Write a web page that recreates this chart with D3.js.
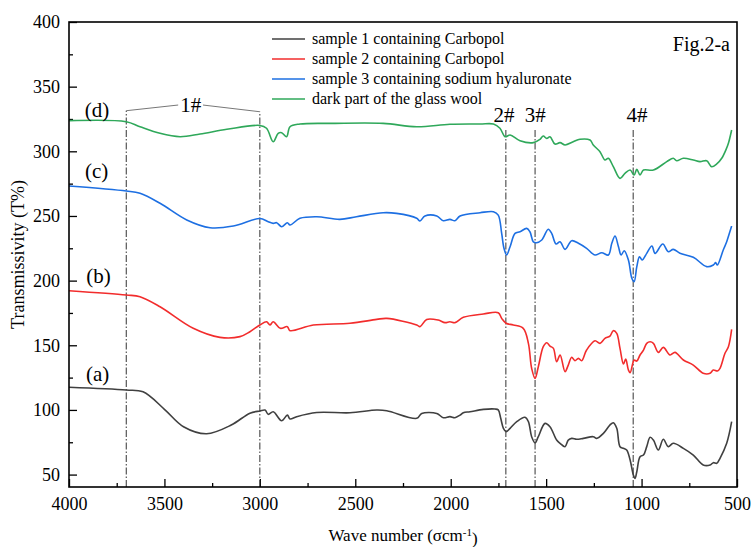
<!DOCTYPE html>
<html>
  <head>
    <meta charset="utf-8">
    <title>Fig.2-a FTIR</title>
    <script src="https://cdn.jsdelivr.net/npm/d3@7"></script>
    <style>
      body { margin: 0; background: #fff; }
      svg text { font-family: "Liberation Serif", "Times New Roman", serif; fill: #000; }
    </style>
  </head>
  <body>
    <div id="chart"></div>
    <script>
      // spectra (wavenumber, transmissivity)
      var waveA = [4000,3700,3612,3500,3400,3279,3150,3052,3000,2973,2956,2930,2886,2856,2842,2807,2702,2528,2388,2335,2178,2152,2073,2039,2004,1978,1951,1934,1899,1829,1768,1751,1738,1724,1710,1689,1654,1611,1593,1576,1558,1541,1506,1480,1445,1427,1401,1384,1366,1340,1305,1253,1235,1200,1166,1148,1130,1113,1095,1078,1060,1043,1034,1025,1008,990,973,955,938,912,886,860,834,781,729,677,641,624,606,589,554,528];
      var transA = [117.5,115.4,114,100.5,87,81.6,88.3,97.5,99.2,99.9,96.6,98.6,91.6,96,93,94.8,98,97.8,99.9,99.4,93.5,97.3,97.3,94,94.8,94,96,97.8,98.6,100.4,100.7,100,93.5,85.8,83.2,85.8,90.9,94.3,90.9,79.3,74.6,79.3,89.6,87,76.7,74.2,71.6,76.7,78,77.3,78,79.3,78,81.9,88.3,90.1,85.8,71.6,70.3,69,61.3,49.6,47.1,52.2,63.8,65.1,71.6,78.8,76.7,69,77.3,71.6,74.2,70.3,65.1,57.4,57.4,59.2,58.7,62.6,74.2,90.9];

      var waveB = [4000,3700,3628,3523,3349,3209,3104,3052,3000,2965,2947,2930,2893,2856,2842,2720,2528,2388,2335,2178,2161,2126,2065,2030,2004,1978,1934,1829,1751,1733,1710,1672,1620,1593,1576,1558,1541,1515,1497,1480,1462,1445,1427,1401,1384,1366,1349,1331,1314,1288,1244,1218,1192,1166,1148,1130,1113,1095,1083,1069,1060,1046,1039,1025,1008,990,973,955,938,912,886,851,825,781,729,677,641,624,603,589,563,545,528];
      var transB = [192.2,188.9,187.6,179.8,163.1,156.1,156.7,160.5,165.7,168.2,165.7,168.2,163.1,164.4,161.3,165.7,167,170,170.8,165.7,164.4,170,169.5,167.5,168.2,167.5,171.6,174.2,175.2,170.8,167,165.7,163.1,151.5,132.2,124.4,133.4,148.9,152,149.4,147.6,137.3,142.5,129.6,134.7,140.7,138,139.9,138,146.3,153.5,151.5,155.3,157.1,161.3,159.2,147.6,135.5,139.4,130.9,128.8,136,138.6,137.8,142.5,146.3,151.5,152.7,151.5,144.5,148.4,142.5,144.5,138.6,134.7,128.3,128.3,130.9,130.1,132.2,143.8,148.9,162.3];

      var waveC = [4000,3700,3628,3523,3383,3261,3139,3000,2956,2930,2912,2886,2856,2842,2790,2702,2581,2494,2354,2284,2178,2161,2135,2073,2039,2004,1978,1951,1846,1776,1751,1733,1721,1707,1689,1663,1637,1602,1585,1567,1550,1523,1489,1471,1448,1427,1401,1366,1331,1288,1244,1209,1174,1156,1139,1121,1107,1091,1069,1051,1039,1025,1011,997,973,946,929,889,860,834,799,729,659,624,612,603,572,554,528];
      var transC = [273.2,269.3,267.5,259.8,246.9,240.9,242.2,248,245.5,244.3,244.8,241.7,244.8,243,248.2,249.4,247.4,249.4,252.5,252,248.2,246.1,250,250,246.3,247.4,246.3,250,252.5,253.3,250.7,236.5,225,219.8,226.2,236.5,237.8,240.4,237.8,230,229.3,231.4,239.7,236.5,228.3,230,224.2,230.9,228.9,225,219.8,221.6,219.8,228.9,234.5,226.2,219.8,223.1,215.9,201.8,199.2,210.8,218.5,215.9,221.1,226.8,221.1,228.3,222.4,224.2,221.1,218,210.8,212.1,213.9,212.1,223.7,230,242.2];

      var waveD = [4000,3700,3628,3523,3418,3313,3173,3000,2965,2930,2904,2886,2860,2842,2790,2616,2354,2178,2004,1846,1776,1742,1715,1689,1637,1567,1532,1515,1497,1480,1454,1427,1401,1358,1323,1270,1253,1218,1192,1174,1148,1113,1087,1060,1039,1025,1008,990,938,868,834,816,781,729,694,659,633,606,580,557,545,528];
      var transD = [323.7,322.9,319,313.9,311.3,313.4,317,320,317.8,307.4,313.9,314.4,311.3,319,321.1,321.6,321.6,319,320.9,321.1,321.1,317.8,311.3,312.6,308.2,306.7,309.3,311.8,310,311.3,305.6,306.7,304.9,307.4,309.3,308.7,304.9,299.7,293.3,294.6,288.1,279.1,283,285.5,281.7,286.1,281.7,285.5,285.5,292,294.6,292.7,294.6,293.3,292,292.7,288.1,290.2,294.6,301.5,306.2,316.5];

      var seriesNames = ["sample 1 containing Carbopol", "sample 2 containing Carbopol",
                         "sample 3 containing sodium hyaluronate", "dark part of the glass wool"];
      var seriesColors = ["#404040", "#f22c2c", "#1d6fe2", "#2fa85a"];

      var xTicks = [4000, 3500, 3000, 2500, 2000, 1500, 1000, 500];
      var xMinor = [3750, 3250, 2750, 2250, 1750, 1250, 750];
      var yTicks = [50, 100, 150, 200, 250, 300, 350, 400];
      var yMinor = [75, 125, 175, 225, 275, 325, 375];

      // curve tags (a)-(d)
      var tagText = ["(a)", "(b)", "(c)", "(d)"];
      var tagWave = [3850, 3846, 3855, 3853];
      var tagValue = [122.3, 198, 279.4, 326.5];

      // band markers
      var bandWave = [3700, 3000, 1711, 1558, 1044];
      var bandTop = [331.4, 330.6, 316.5, 316.5, 318];
      var peakText = ["2#", "3#", "4#"];
      var peakWave = [1721, 1557, 1024];
      var peakValue = [322.9, 322.9, 322.9];

      var margin = {top: 22, right: 15, bottom: 60, left: 69},
          width = 752 - margin.left - margin.right,
          height = 547 - margin.top - margin.bottom;

      var svg = d3.select("#chart")
        .append("svg")
          .attr("width", 752)
          .attr("height", 547)
        .append("g")
          .attr("transform", "translate(" + margin.left + "," + margin.top + ")");

      var x = d3.scaleLinear().domain([4000, 500]).range([0, width]);
      var y = d3.scaleLinear().domain([40.4, 400]).range([height, 0]);

      // axes, ticks pointing inward
      svg.append("g")
        .attr("transform", "translate(0," + height + ")")
        .call(d3.axisBottom(x).tickValues(xTicks).tickSize(-8).tickPadding(10).tickFormat(d3.format("d")))
        .call(g => g.select(".domain").remove())
        .selectAll("text").style("font-size", "18px");
      svg.append("g")
        .attr("transform", "translate(0," + height + ")")
        .call(d3.axisBottom(x).tickValues(xMinor).tickSize(-4).tickFormat(""))
        .call(g => g.select(".domain").remove());
      svg.append("g")
        .call(d3.axisLeft(y).tickValues(yTicks).tickSize(-8).tickPadding(9))
        .call(g => g.select(".domain").remove())
        .selectAll("text").style("font-size", "18px");
      svg.append("g")
        .call(d3.axisLeft(y).tickValues(yMinor).tickSize(-4).tickFormat(""))
        .call(g => g.select(".domain").remove());
      svg.selectAll(".tick line").attr("stroke", "#000").attr("stroke-width", 1.3);

      // band marker lines (dash-dot)
      svg.selectAll(".band")
        .data(bandWave)
        .enter()
        .append("line")
          .attr("class", "band")
          .attr("x1", d => x(d))
          .attr("x2", d => x(d))
          .attr("y1", height)
          .attr("y2", (d, i) => y(bandTop[i]))
          .attr("stroke", "#333")
          .attr("stroke-width", 1)
          .attr("stroke-dasharray", "7,2,1.5,2");

      // 1# bracket
      var bracket = [[3700, 331.4], [3428, 335.8]];
      var bracket2 = [[3298, 335.8], [3000, 330.6]];
      [bracket, bracket2].forEach(function(b) {
        svg.append("line")
          .attr("x1", x(b[0][0])).attr("y1", y(b[0][1]))
          .attr("x2", x(b[1][0])).attr("y2", y(b[1][1]))
          .attr("stroke", "#777").attr("stroke-width", 1);
      });
      svg.append("text")
        .attr("x", x(3362)).attr("y", y(330.4))
        .attr("text-anchor", "middle")
        .style("font-size", "21px")
        .text("1#");

      svg.selectAll(".peak")
        .data(peakText)
        .enter()
        .append("text")
          .attr("class", "peak")
          .attr("x", (d, i) => x(peakWave[i]))
          .attr("y", (d, i) => y(peakValue[i]))
          .attr("text-anchor", "middle")
          .style("font-size", "21px")
          .text(d => d);

      // spectra
      var series = [
        {w: waveA, t: transA},
        {w: waveB, t: transB},
        {w: waveC, t: transC},
        {w: waveD, t: transD}
      ];
      var line = d3.line()
        .x(d => x(d[0]))
        .y(d => y(d[1]))
        .curve(d3.curveCatmullRom.alpha(0.5));
      svg.selectAll(".spec")
        .data(series)
        .enter()
        .append("path")
          .attr("class", "spec")
          .attr("d", s => line(s.w.map((w, i) => [w, s.t[i]])))
          .attr("fill", "none")
          .attr("stroke", (s, i) => seriesColors[i])
          .attr("stroke-width", 1.6)
          .attr("stroke-linejoin", "round");

      svg.selectAll(".tag")
        .data(tagText)
        .enter()
        .append("text")
          .attr("class", "tag")
          .attr("x", (d, i) => x(tagWave[i]))
          .attr("y", (d, i) => y(tagValue[i]))
          .attr("text-anchor", "middle")
          .style("font-size", "21px")
          .text(d => d);

      // frame
      svg.append("rect")
        .attr("width", width)
        .attr("height", height)
        .attr("fill", "none")
        .attr("stroke", "#000")
        .attr("stroke-width", 1.6);

      // legend
      var legend = svg.selectAll(".legend")
        .data(seriesNames)
        .enter()
        .append("g")
          .attr("class", "legend")
          .attr("transform", (d, i) => "translate(203," + (17 + i * 20) + ")");
      legend.append("line")
        .attr("x1", 0).attr("x2", 33)
        .attr("stroke", (d, i) => seriesColors[i])
        .attr("stroke-width", 1.6);
      legend.append("text")
        .attr("x", 40)
        .attr("dy", "0.33em")
        .style("font-size", "16px")
        .text(d => d);

      svg.append("text")
        .attr("x", width - 7)
        .attr("y", 29)
        .attr("text-anchor", "end")
        .style("font-size", "20px")
        .text("Fig.2-a");

      // axis titles
      var xt = svg.append("text")
        .attr("x", width / 2)
        .attr("y", height + 54)
        .attr("text-anchor", "middle")
        .style("font-size", "17px");
      xt.append("tspan").text("Wave number (σcm");
      xt.append("tspan").attr("dy", "-0.45em").style("font-size", "11px").text("-1");
      xt.append("tspan").attr("dy", "0.45em").text(")");

      svg.append("text")
        .attr("transform", "translate(" + (-45) + "," + (height / 2) + ") rotate(-90)")
        .attr("text-anchor", "middle")
        .style("font-size", "18px")
        .text("Transmissivity (T%)");
    </script>
  </body>
</html>
